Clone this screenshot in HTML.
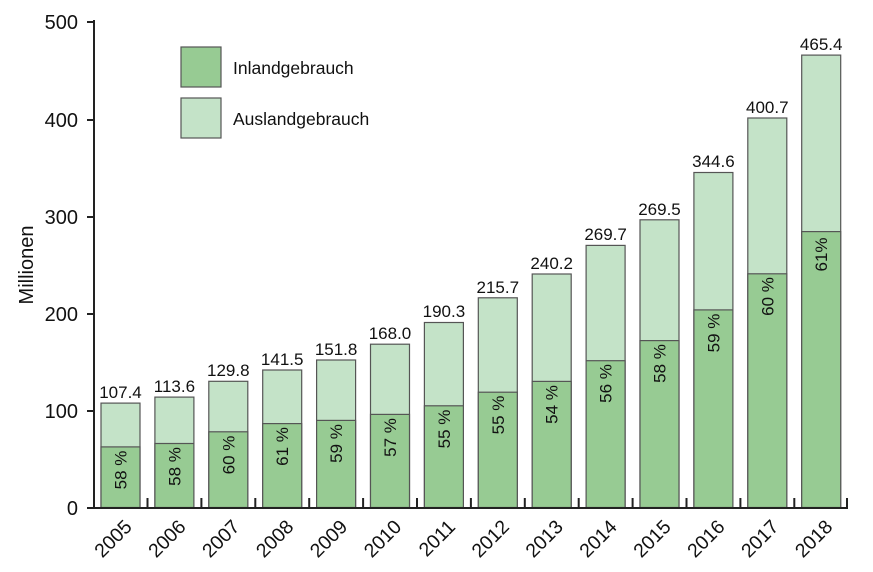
<!DOCTYPE html><html><head><style>body{margin:0;background:#fff}svg{display:block;font-family:"Liberation Sans",sans-serif}</style></head><body>
<svg width="873" height="572" viewBox="0 0 873 572">
<g stroke="#555" stroke-width="1.2">
<rect x="101" y="403.1" width="39" height="104.4" fill="#c4e3c8"/><rect x="101" y="446.9" width="39" height="60.6" fill="#97cb93"/>
<rect x="154.9" y="397.1" width="39" height="110.4" fill="#c4e3c8"/><rect x="154.9" y="443.5" width="39" height="64" fill="#97cb93"/>
<rect x="208.8" y="381.3" width="39" height="126.2" fill="#c4e3c8"/><rect x="208.8" y="431.8" width="39" height="75.7" fill="#97cb93"/>
<rect x="262.7" y="370" width="39" height="137.5" fill="#c4e3c8"/><rect x="262.7" y="423.6" width="39" height="83.9" fill="#97cb93"/>
<rect x="316.6" y="360" width="39" height="147.5" fill="#c4e3c8"/><rect x="316.6" y="420.4" width="39" height="87.1" fill="#97cb93"/>
<rect x="370.5" y="344.2" width="39" height="163.3" fill="#c4e3c8"/><rect x="370.5" y="414.4" width="39" height="93.1" fill="#97cb93"/>
<rect x="424.4" y="322.5" width="39" height="185" fill="#c4e3c8"/><rect x="424.4" y="405.8" width="39" height="101.7" fill="#97cb93"/>
<rect x="478.3" y="297.8" width="39" height="209.7" fill="#c4e3c8"/><rect x="478.3" y="392.2" width="39" height="115.3" fill="#97cb93"/>
<rect x="532.2" y="274" width="39" height="233.5" fill="#c4e3c8"/><rect x="532.2" y="381.4" width="39" height="126.1" fill="#97cb93"/>
<rect x="586.1" y="245.4" width="39" height="262.1" fill="#c4e3c8"/><rect x="586.1" y="360.7" width="39" height="146.8" fill="#97cb93"/>
<rect x="640" y="219.8" width="39" height="287.7" fill="#c4e3c8"/><rect x="640" y="340.6" width="39" height="166.9" fill="#97cb93"/>
<rect x="693.9" y="172.5" width="39" height="335" fill="#c4e3c8"/><rect x="693.9" y="309.9" width="39" height="197.6" fill="#97cb93"/>
<rect x="747.8" y="118" width="39" height="389.5" fill="#c4e3c8"/><rect x="747.8" y="273.8" width="39" height="233.7" fill="#97cb93"/>
<rect x="801.7" y="55.1" width="39" height="452.4" fill="#c4e3c8"/><rect x="801.7" y="231.6" width="39" height="275.9" fill="#97cb93"/>
<rect x="181" y="47" width="40" height="40" fill="#97cb93"/><rect x="181" y="98" width="40" height="40" fill="#c4e3c8"/>
</g>
<g stroke="#222" stroke-width="2" fill="none">
<path d="M94 20 V508 H848"/>
<path d="M87 508H94M87 411H94M87 314H94M87 217H94M87 120H94M87 22H94"/>
<path d="M147.5 508v-10M201.4 508v-10M255.3 508v-10M309.2 508v-10M363.1 508v-10M417 508v-10M470.9 508v-10M524.8 508v-10M578.7 508v-10M632.6 508v-10M686.5 508v-10M740.4 508v-10M794.3 508v-10M847 508v-10"/>
</g>
<g font-size="20" fill="#111" text-anchor="end">
<text x="78" y="515">0</text><text x="78" y="418">100</text><text x="78" y="321">200</text><text x="78" y="224">300</text><text x="78" y="127">400</text><text x="78" y="29">500</text>
</g>
<text transform="translate(33,265) rotate(-90)" font-size="20" text-anchor="middle" fill="#111">Millionen</text>
<g font-size="17.5" fill="#111"><text x="233" y="74">Inlandgebrauch</text><text x="233" y="125">Auslandgebrauch</text></g>
<g font-size="17" fill="#111" text-anchor="middle">
<text x="120.5" y="398">107.4</text><text x="174.4" y="392">113.6</text><text x="228.3" y="376">129.8</text><text x="282.2" y="365">141.5</text><text x="336.1" y="355">151.8</text><text x="390" y="339">168.0</text><text x="443.9" y="317">190.3</text><text x="497.8" y="293">215.7</text><text x="551.7" y="269">240.2</text><text x="605.6" y="240">269.7</text><text x="659.5" y="215">269.5</text><text x="713.4" y="167">344.6</text><text x="767.3" y="113">400.7</text><text x="821.2" y="50">465.4</text>
</g>
<g font-size="17" fill="#111" text-anchor="middle">
<text transform="translate(126.5,470) rotate(-90)">58 %</text>
<text transform="translate(180.4,466.5) rotate(-90)">58 %</text>
<text transform="translate(234.3,455) rotate(-90)">60 %</text>
<text transform="translate(288.2,446.5) rotate(-90)">61 %</text>
<text transform="translate(342.1,443.5) rotate(-90)">59 %</text>
<text transform="translate(396,437.5) rotate(-90)">57 %</text>
<text transform="translate(449.9,429) rotate(-90)">55 %</text>
<text transform="translate(503.8,415) rotate(-90)">55 %</text>
<text transform="translate(557.7,404.5) rotate(-90)">54 %</text>
<text transform="translate(611.6,383.5) rotate(-90)">56 %</text>
<text transform="translate(665.5,363.5) rotate(-90)">58 %</text>
<text transform="translate(719.4,333) rotate(-90)">59 %</text>
<text transform="translate(773.3,296.5) rotate(-90)">60 %</text>
<text transform="translate(827.2,254.5) rotate(-90)">61%</text>
</g>
<g font-size="19.5" fill="#111" text-anchor="end">
<text transform="translate(133,528) rotate(-45)">2005</text>
<text transform="translate(186.9,528) rotate(-45)">2006</text>
<text transform="translate(240.8,528) rotate(-45)">2007</text>
<text transform="translate(294.7,528) rotate(-45)">2008</text>
<text transform="translate(348.6,528) rotate(-45)">2009</text>
<text transform="translate(402.5,528) rotate(-45)">2010</text>
<text transform="translate(456.4,528) rotate(-45)">2011</text>
<text transform="translate(510.3,528) rotate(-45)">2012</text>
<text transform="translate(564.2,528) rotate(-45)">2013</text>
<text transform="translate(618.1,528) rotate(-45)">2014</text>
<text transform="translate(672,528) rotate(-45)">2015</text>
<text transform="translate(725.9,528) rotate(-45)">2016</text>
<text transform="translate(779.8,528) rotate(-45)">2017</text>
<text transform="translate(833.7,528) rotate(-45)">2018</text>
</g>
</svg></body></html>
